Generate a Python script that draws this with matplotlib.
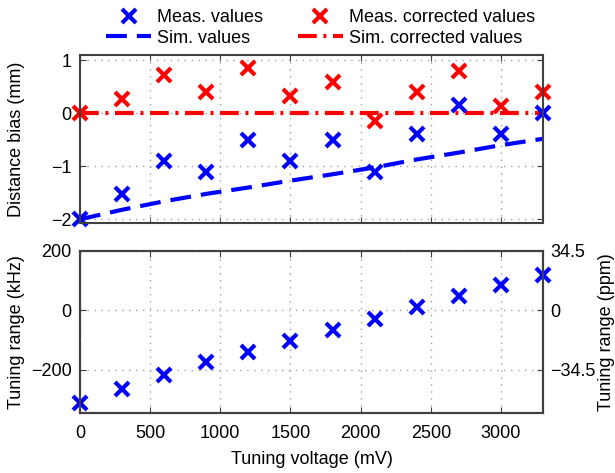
import matplotlib.pyplot as plt
from matplotlib.lines import Line2D

plt.rcParams['font.family'] = ['Liberation Sans', 'DejaVu Sans']
plt.rcParams['font.size'] = 13

# Data
voltage = [0, 300, 600, 900, 1200, 1500, 1800, 2100, 2400, 2700, 3000, 3300]  # mV
meas_bias = [-2.0, -1.52, -0.9, -1.1, -0.5, -0.9, -0.5, -1.1, -0.38, 0.16, -0.38, 0.0]
meas_corr_bias = [0.0, 0.28, 0.73, 0.40, 0.85, 0.32, 0.60, -0.15, 0.40, 0.80, 0.13, 0.40]
sim_bias = [-2.0, -1.82, -1.66, -1.52, -1.40, -1.27, -1.15, -1.02, -0.87, -0.74, -0.60, -0.48]
sim_corr_bias = [0.0, 0.0, 0.0, 0.0, 0.0, 0.0, 0.0, 0.0, 0.0, 0.0, 0.0, 0.0]
tuning_khz = [-311, -263, -216, -175, -140, -104, -67, -30, 12, 48, 87, 119]

blue = '#0000ff'
red = '#ff0000'
spine_col = '#404040'
grid_col = '#a0a0a0'
dash_sim = (5, 2.4)
dashdot_sim = (4.5, 1.6, 0.7, 1.6)

fig = plt.figure(figsize=(6.15, 4.73), dpi=100)
ax1 = fig.add_axes([0.130, 0.5285, 0.753, 0.355])
ax2 = fig.add_axes([0.130, 0.127, 0.753, 0.3425])

mk = dict(marker='x', linestyle='none', markersize=10, markeredgewidth=3)

# Top panel: distance bias
ax1.plot(voltage, sim_corr_bias, color=red, linewidth=3, dashes=dashdot_sim)
ax1.plot(voltage, sim_bias, color=blue, linewidth=3, dashes=dash_sim)
ax1.plot(voltage, meas_bias, color=blue, clip_on=False, **mk)
ax1.plot(voltage, meas_corr_bias, color=red, clip_on=False, **mk)
ax1.set_xlim(0, 3300)
ax1.set_ylim(-2.07, 1.1)
ax1.set_yticks([-2, -1, 0, 1])
ax1.set_yticklabels(['\u22122', '\u22121', '0', '1'])
ax1.set_xticks(range(0, 3301, 500))
ax1.set_xticklabels([])
ax1.set_ylabel('Distance bias (mm)')
ax1.yaxis.set_label_coords(-0.118, 0.5)

# Bottom panel: tuning range
ax2.plot(voltage, tuning_khz, color=blue, clip_on=False, **mk)
ax2.set_xlim(0, 3300)
ax2.set_ylim(-345, 200)
ax2.set_yticks([-200, 0, 200])
ax2.set_yticklabels(['\u2212200', '0', '200'])
ax2.set_xticks(range(0, 3301, 500))
ax2.set_xlabel('Tuning voltage (mV)', labelpad=6)
ax2.set_ylabel('Tuning range (kHz)')
ax2.yaxis.set_label_coords(-0.118, 0.5)

# right axis in ppm (200 kHz = 34.5 ppm)
ax3 = ax2.twinx()
ax3.set_ylim(-345 * 34.5 / 200, 200 * 34.5 / 200)
ax3.set_yticks([-34.5, 0, 34.5])
ax3.set_yticklabels(['\u221234.5', '0', '34.5'])
ax3.set_ylabel('Tuning range (ppm)')
ax3.yaxis.set_label_coords(1.118, 0.5)
ax3.tick_params(direction='in', length=4, color=spine_col, pad=5)

for ax in (ax1, ax2, ax3):
    for s in ax.spines.values():
        s.set_color(spine_col)
        s.set_linewidth(1.5)
for ax in (ax1, ax2):
    ax.grid(True, linestyle=(0, (1, 4)), color=grid_col, linewidth=1)
    ax.tick_params(direction='in', length=4, color=spine_col, top=True, pad=6)
ax2.tick_params(axis='x', pad=9)
ax1.tick_params(right=True)

# Legend above the top panel
handles = [
    Line2D([], [], color=blue, **mk),
    Line2D([], [], color=blue, linewidth=3, dashes=dash_sim),
    Line2D([], [], color=red, **mk),
    Line2D([], [], color=red, linewidth=3, dashes=dashdot_sim),
]
labels = ['Meas. values', 'Sim. values', 'Meas. corrected values', 'Sim. corrected values']
fig.legend(handles, labels, ncol=2, frameon=False, loc='upper left',
           bbox_to_anchor=(106 / 615, 1 - 9 / 473), borderpad=0, borderaxespad=0,
           handlelength=2.5, columnspacing=1.9, labelspacing=0.2,
           handletextpad=0.35)

fig.savefig('out.png', dpi=100)
